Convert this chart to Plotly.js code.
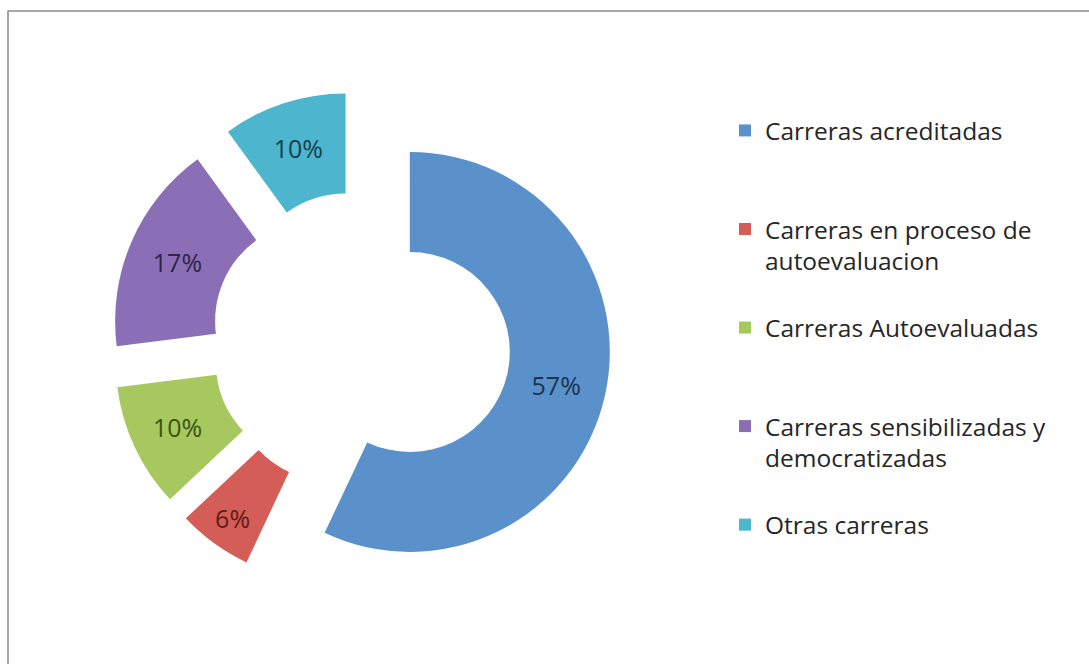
<!DOCTYPE html>
<html>
<head>
<meta charset="utf-8">
<script src="https://cdn.plot.ly/plotly-3.0.1.min.js"></script>
<style>
  html, body { margin: 0; padding: 0; background: #ffffff; }
  #chart { width: 1089px; height: 664px; }
</style>
</head>
<body>
<div id="chart"></div>
<script>
// Data
var categories = [
  "Carreras acreditadas",
  "Carreras en proceso de<br>autoevaluacion",
  "Carreras Autoevaluadas",
  "Carreras sensibilizadas y<br>democratizadas",
  "Otras carreras"
];
var values = [57, 6, 10, 17, 10];

var sliceColors = ["#5A91CB", "#D45D57", "#A6C85F", "#8B6FB6", "#4DB5CD"];
var labelColors = ["#1C3354", "#5E1C18", "#3C5214", "#2E2348", "#143F4E"];

// Legend entries are spaced evenly in the reference: give every entry 3 lines.
var legendLabels = categories.map(function (c) {
  var lines = c.split("<br>").length;
  var pad = "";
  for (var i = lines; i < 3; i++) pad += "<br> ";
  return c + pad;
});

var W = 1089, H = 664;

var trace = {
  type: "pie",
  labels: legendLabels,
  values: values,
  sort: false,
  direction: "clockwise",
  rotation: 0,
  hole: 0.5,
  pull: 0.25,
  marker: { colors: sliceColors, line: { width: 0 } },
  textinfo: "percent",
  texttemplate: "%{percent:.0%}",
  textposition: "inside",
  insidetextorientation: "horizontal",
  textfont: { family: "Open Sans, sans-serif", size: 25, color: labelColors },
  domain: { x: [111 / W, 611 / W], y: [73 / H, 573 / H] },
  hoverinfo: "label+percent"
};

var layout = {
  width: W,
  height: H,
  margin: { l: 0, r: 0, t: 0, b: 0 },
  paper_bgcolor: "#ffffff",
  showlegend: true,
  legend: {
    x: 725 / W,
    xanchor: "left",
    y: 1 - 108 / H,
    yanchor: "top",
    valign: "top",
    font: { family: "Open Sans, sans-serif", size: 24.5, color: "#262626" },
    bgcolor: "rgba(0,0,0,0)",
    borderwidth: 0
  },
  shapes: [{
    type: "rect",
    xref: "paper", yref: "paper",
    x0: 8 / W, x1: 1.05,
    y0: 1 - 11 / H, y1: -0.05,
    line: { color: "#8c8c8c", width: 1.5 },
    fillcolor: "rgba(0,0,0,0)"
  }]
};

Plotly.newPlot("chart", [trace], layout, { displayModeBar: false, staticPlot: true });
</script>
</body>
</html>
